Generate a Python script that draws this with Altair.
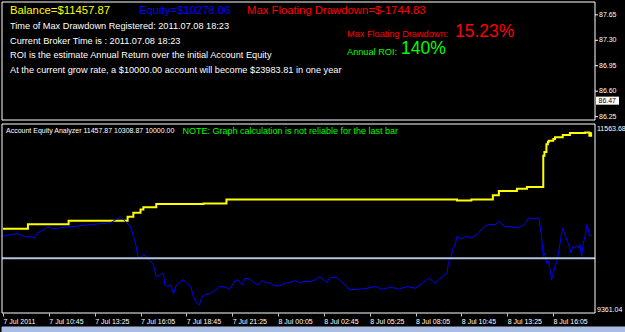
import json
import altair as alt
import pandas as pd

# ---------------- data ----------------
price_ticks = [87.65, 87.30, 86.95, 86.60, 86.25]
current_price = [86.47]
price_domain = [86.204, 87.826]

header_texts = ["Balance=$11457.87", "Equity=$10278.06", "Max Floating Drawdown=$-1744.83"]
header_colors = ["#ffff00", "#0000ff", "#ff0000"]
info_lines = [
    "Time of Max Drawdown Registered: 2011.07.08 18:23",
    "Current Broker Time is : 2011.07.08 18:23",
    "ROI is the estimate Annual Return over the initial Account Equity",
    "At the current grow rate, a $10000.00 account will become $23983.81 in one year",
]
stat_labels = ["Max Floating Drawdown:", "Annual ROI:"]
stat_values = ["15.23%", "140%"]
stat_colors = ["#ff0000", "#00ff00"]

indicator_label = "Account Equity Analyzer 11457.87 10308.87 10000.00"
note_text = "NOTE: Graph calculation is not reliable for the last bar"
equity_min = [9361.04]
equity_max = [11563.68]
initial_equity = [10000.0]

# time = minutes after 7 Jul 2011 08:05
x_tick_labels = ["7 Jul 2011", "7 Jul 10:45", "7 Jul 13:25", "7 Jul 16:05", "7 Jul 18:45",
                 "7 Jul 21:25", "8 Jul 00:05", "8 Jul 02:45", "8 Jul 05:25", "8 Jul 08:05",
                 "8 Jul 10:45", "8 Jul 13:25", "8 Jul 16:05"]
x_tick_minutes = [0, 160, 320, 480, 640, 800, 960, 1120, 1280, 1440, 1600, 1760, 1920]
x_domain = [-3.5, 2066.6]

balance_t = [0, 87, 229, 435, 455, 480, 490, 535, 700, 780, 1585, 1635, 1710, 1731, 1794,
             1829, 1886, 1890, 1897, 1902, 1905, 1921, 1927, 1954, 1979, 2032, 2047, 2053, 2055]
balance_v = [10342, 10396, 10435, 10482, 10529, 10568, 10594, 10630, 10638, 10685, 10673, 10685,
             10732, 10782, 10810, 10829, 11193, 11236, 11329, 11353, 11368, 11388, 11408, 11435,
             11458, 11466, 11427, 11458, 11458]

equity_t = [0, 30, 50, 65, 80, 100, 110, 120, 145, 155, 170, 200, 225, 255, 285, 310, 345, 375,
            395, 410, 420, 430, 445, 455, 465, 470, 480, 490, 505, 515, 525, 535, 550, 560, 565,
            575, 585, 595, 605, 620, 630, 640, 655, 665, 675, 685, 695, 705, 725, 740, 755, 775,
            790, 810, 820, 835, 845, 860, 880, 890, 905, 920, 930, 950, 965, 985, 1000, 1020,
            1035, 1055, 1070, 1090, 1105, 1120, 1130, 1140, 1165, 1180, 1200, 1210, 1245, 1270,
            1300, 1325, 1355, 1380, 1410, 1440, 1465, 1485, 1510, 1520, 1535, 1550, 1555, 1565,
            1570, 1580, 1585, 1600, 1615, 1635, 1655, 1675, 1695, 1720, 1730, 1750, 1775, 1800,
            1820, 1835, 1855, 1870, 1875, 1880, 1886, 1892, 1898, 1904, 1910, 1915, 1921, 1927,
            1933, 1939, 1945, 1950, 1954, 1959, 1966, 1970, 1977, 1982, 1989, 1996, 2003, 2009,
            2014, 2020, 2026, 2032, 2038, 2044, 2047, 2055]
equity_v = [10255, 10275, 10287, 10263, 10248, 10248, 10236, 10295, 10333, 10372, 10342, 10353,
            10365, 10372, 10384, 10392, 10404, 10412, 10451, 10482, 10451, 10419, 10372, 10255,
            10138, 10021, 10002, 10041, 10002, 9962, 9923, 9786, 9806, 9826, 9689, 9669, 9689,
            9584, 9689, 9728, 9748, 9709, 9669, 9552, 9482, 9455, 9552, 9572, 9592, 9622, 9669,
            9662, 9639, 9736, 9748, 9689, 9768, 9759, 9709, 9689, 9739, 9709, 9716, 9677, 9677,
            9709, 9716, 9739, 9716, 9728, 9728, 9748, 9786, 9748, 9716, 9768, 9779, 9728, 9669,
            9631, 9639, 9650, 9669, 9639, 9662, 9639, 9669, 9650, 9709, 9768, 9709, 9748, 9786,
            9826, 9943, 10021, 10099, 10178, 10255, 10225, 10255, 10236, 10275, 10353, 10392,
            10392, 10431, 10372, 10365, 10353, 10392, 10471, 10459, 10471, 10372, 10255, 10021,
            10060, 9943, 9962, 9865, 9748, 9826, 9904, 9962, 10060, 10178, 10295, 10353, 10295,
            10236, 10196, 10138, 10060, 10138, 10119, 10146, 10119, 10158, 10021, 10178, 10255,
            10392, 10333, 10255, 10278]

# ---------------- layout / style ----------------
W = 593
H = 330
EQ_BOTTOM = 311
TOP_H = 118
BOT_Y0 = 122
FONT = "Liberation Sans"
AXSIZE = 7


def label(txt, x, y, color, size, font=FONT):
    return alt.Chart(pd.DataFrame({"t": [txt]})).mark_text(
        align="left", baseline="middle", color=color, fontSize=size, font=font
    ).encode(x=alt.value(x), y=alt.value(y), text="t:N")


def frame(y0, y1):
    return alt.Chart(pd.DataFrame({"a": [0]})).mark_rect(
        filled=False, stroke="#ffffff", strokeWidth=1
    ).encode(x=alt.value(0), x2=alt.value(W), y=alt.value(y0), y2=alt.value(y1))


# ---------------- price panel ----------------
y_price = alt.Y("price:Q", axis=None,
                scale=alt.Scale(domain=price_domain, range=[TOP_H, 0], nice=False, zero=False))
price_df = pd.DataFrame({"price": price_ticks})
cur_df = pd.DataFrame({"price": current_price})

price_tick_marks = alt.Chart(price_df).mark_rule(color="#ffffff").encode(
    x=alt.value(W), x2=alt.value(W + 3), y=y_price)
price_tick_labels = alt.Chart(price_df).mark_text(
    align="left", baseline="middle", color="#ffffff", fontSize=AXSIZE, font=FONT
).encode(x=alt.value(W + 4), y=y_price, text=alt.Text("price:Q", format=".2f"))
cur_box = alt.Chart(cur_df).mark_point(
    shape="M-1,-0.35L1,-0.35L1,0.35L-1,0.35Z", filled=True, color="#ffffff",
    size=529, opacity=1, strokeWidth=0
).encode(x=alt.value(W + 12.5), y=y_price)
cur_txt = alt.Chart(cur_df).mark_text(
    align="left", baseline="middle", color="#000000", fontSize=AXSIZE, font=FONT
).encode(x=alt.value(W + 3.5), y=y_price, text=alt.Text("price:Q", format=".2f"))

price_panel = alt.layer(price_tick_marks, price_tick_labels, cur_box, cur_txt)

# ---------------- indicator panel ----------------
bal_df = pd.DataFrame({"t": balance_t, "v": balance_v})
eq_df = pd.DataFrame({"t": equity_t, "v": equity_v})

label_expr = f"{json.dumps(x_tick_labels)}[indexof({json.dumps(x_tick_minutes)}, datum.value)]"
x_time = alt.X(
    "t:Q",
    scale=alt.Scale(domain=x_domain, nice=False, zero=False),
    axis=alt.Axis(values=x_tick_minutes, labelExpr=label_expr, title=None, grid=False,
                  domain=False, tickColor="#c8c8c8", tickSize=3, labelPadding=1,
                  labelAlign="left", labelFlush=False, labelOverlap=False,
                  offset=EQ_BOTTOM - H,
                  labelColor="#ffffff", labelFont=FONT, labelFontSize=AXSIZE),
)
y_eq = alt.Y("v:Q", axis=None,
             scale=alt.Scale(domain=[equity_min[0], equity_max[0]], range=[EQ_BOTTOM, BOT_Y0],
                             nice=False, zero=False))

bal_line = alt.Chart(bal_df).mark_line(
    color="#ffff00", strokeWidth=2, interpolate="step-after").encode(x=x_time, y=y_eq)
eq_line = alt.Chart(eq_df).mark_line(color="#0000ff", strokeWidth=1).encode(x=x_time, y=y_eq)
init_rule = alt.Chart(pd.DataFrame({"v": initial_equity})).mark_rule(
    color="#b0c4de", strokeWidth=2).encode(y=y_eq, x=alt.value(0), x2=alt.value(W))
max_lbl = alt.Chart(pd.DataFrame({"v": equity_max})).mark_text(
    align="left", baseline="top", color="#ffffff", fontSize=AXSIZE, font=FONT, dy=1
).encode(x=alt.value(W + 2), y=y_eq, text=alt.Text("v:Q", format=".2f"))
min_lbl = alt.Chart(pd.DataFrame({"v": equity_min})).mark_text(
    align="left", baseline="bottom", color="#ffffff", fontSize=AXSIZE, font=FONT
).encode(x=alt.value(W + 2), y=y_eq, text=alt.Text("v:Q", format=".2f"))

eq_panel = alt.layer(bal_line, eq_line, init_rule, max_lbl, min_lbl)

# ---------------- texts, frames, window strip ----------------
strip = alt.Chart(pd.DataFrame({"a": [0]})).mark_rect(
    filled=True, fill="#a9bce2", stroke="#a9bce2", strokeWidth=1, opacity=1
).encode(x=alt.value(0), x2=alt.value(W + 30), y=alt.value(H - 5), y2=alt.value(H))
strip_line = alt.Chart(pd.DataFrame({"a": [0]})).mark_rule(
    color="#a9bce2", strokeWidth=4
).encode(x=alt.value(0), x2=alt.value(W + 30), y=alt.value(H - 2.5))

deco = [frame(0, TOP_H), frame(BOT_Y0, EQ_BOTTOM), strip, strip_line,
        label(header_texts[0], 8, 8.8, header_colors[0], 11.3),
        label(header_texts[1], 137, 8.8, header_colors[1], 11.3),
        label(header_texts[2], 245, 8.8, header_colors[2], 11.3)]
for i, line in enumerate(info_lines):
    deco.append(label(line, 8, 23.8 + i * 14.7, "#ffffff", 9.2))
deco += [
    label(stat_labels[0], 345, 31.7, stat_colors[0], 9.2),
    label(stat_values[0], 453, 29.7, stat_colors[0], 17.5),
    label(stat_labels[1], 345, 49.7, stat_colors[1], 9.2),
    label(stat_values[1], 399, 47.3, stat_colors[1], 17.5),
    label(indicator_label, 4, BOT_Y0 + 6.7, "#ffffff", AXSIZE),
    label(note_text, 180.5, BOT_Y0 + 6.7, "#00ff00", 9),
]

chart = alt.layer(
    eq_panel, price_panel, alt.layer(*deco)
).resolve_scale(y="independent").properties(
    width=W, height=H,
    background="#000000",
    padding={"left": 2, "top": 2, "right": 30, "bottom": 0},
    autosize=alt.AutoSizeParams(type="none"),
).configure_view(strokeWidth=0)

chart.save("out.html", embed_options={"renderer": "svg", "actions": False})
